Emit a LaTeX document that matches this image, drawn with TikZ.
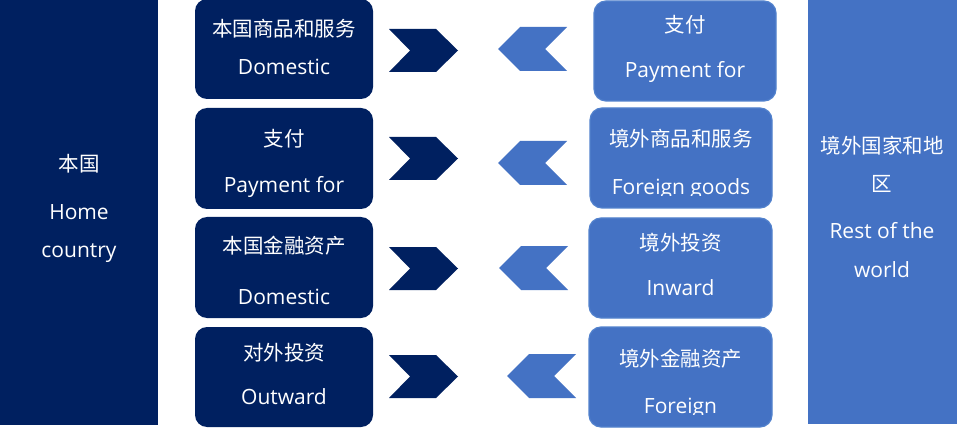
\documentclass[tikz,border=0pt]{standalone}
\usepackage{fontspec}
\setmainfont{Open Sans}
\newfontfamily\cjk{Noto Sans CJK SC}
\definecolor{navy}{HTML}{002060}
\definecolor{lblue}{HTML}{4472C4}
\definecolor{lrim}{HTML}{5282CD}
\tikzset{
  bigdark/.style={fill=navy, draw=none, inner sep=0pt},
  biglight/.style={fill=lblue, draw=none, inner sep=0pt},
  darkbox/.style={fill=navy, draw=none, rounded corners=12pt, inner sep=0pt},
  lightbox/.style={fill=lblue, draw=lrim, line width=1.2pt, rounded corners=12pt, inner sep=0pt},
  etxt/.style={text=white, font=\fontsize{21}{25}\selectfont, anchor=base, inner sep=0pt},
  ctxt/.style={text=white, font=\cjk\fontsize{20.5}{24}\selectfont, anchor=base, inner sep=0pt},
  darkchev/.style={fill=navy, draw=none},
  lightchev/.style={fill=lblue, draw=none}
}
\newcommand\chevRight[2]{% x of left edge, y of top
  \fill[darkchev] (#1,#2) -- ++(47,0) -- ++(22,21.5) -- ++(-22,21.5) -- ++(-47,0) -- ++(21,-21.5) -- cycle;}
\newcommand\chevLeft[2]{% x of left tip, y of top
  \fill[lightchev] (#1,#2+22) -- ++(22,-22) -- ++(47,0) -- ++(-22,22) -- ++(22,22) -- ++(-47,0) -- cycle;}
\begin{document}
\begin{tikzpicture}[x=1pt,y=-1pt]
\useasboundingbox (0,0) rectangle (960,430);
\fill[white] (0,0) rectangle (960,430);
% big side panels
\node[bigdark, minimum width=158pt, minimum height=425pt] (home) at (79,212.5) {};
\node[biglight, minimum width=149pt, minimum height=424pt] (world) at (882.5,212) {};
\node[ctxt] (homecn) at (79,172) {本国};
\node[etxt] (homeen1) at (79,220) {Home};
\node[etxt] (homeen2) at (79,257) {country};
\node[ctxt] (worldcn1) at (882,154) {境外国家和地};
\node[ctxt] (worldcn2) at (882,192) {区};
\node[etxt] (worlden1) at (882,238) {Rest of the};
\node[etxt] (worlden2) at (882,277) {world};
% left boxes
\node[darkbox, minimum width=178pt, minimum height=100pt] (L1) at (284,49) {};
\node[darkbox, minimum width=178pt, minimum height=101pt] (L2) at (284,158.5) {};
\node[darkbox, minimum width=178pt, minimum height=101pt] (L3) at (284,267.5) {};
\node[darkbox, minimum width=178pt, minimum height=100pt] (L4) at (284,377) {};
\node[ctxt] (L1a) at (284,37) {本国商品和服务};
\node[etxt] (L1b) at (284,75) {Domestic};
\node[ctxt] (L2a) at (284,147) {支付};
\node[etxt] (L2b) at (284,193) {Payment for};
\node[ctxt] (L3a) at (284,253) {本国金融资产};
\node[etxt] (L3b) at (284,304) {Domestic};
\node[ctxt] (L4a) at (284,360) {对外投资};
\node[etxt] (L4b) at (284,404) {Outward};
% right boxes
\node[lightbox, minimum width=182pt, minimum height=100pt] (R1) at (685,51) {};
\node[lightbox, minimum width=182pt, minimum height=100pt] (R2) at (681,158) {};
\node[lightbox, minimum width=183pt, minimum height=100pt] (R3) at (680.5,268) {};
\node[lightbox, minimum width=183pt, minimum height=100pt] (R4) at (680.5,377) {};
\node[ctxt] (R1a) at (685,33) {支付};
\node[etxt] (R1b) at (685,78) {Payment for};
\node[ctxt] (R2a) at (681,147) {境外商品和服务};
\begin{scope}
  \clip (590,150) rectangle (772,196);
  \node[etxt] (R2b) at (681,195) {Foreign goods};
\end{scope}
\node[ctxt] (R3a) at (680.5,251) {境外投资};
\node[etxt] (R3b) at (680.5,295) {Inward};
\node[ctxt] (R4a) at (680.5,366) {境外金融资产};
\begin{scope}
  \clip (589,370) rectangle (772,414);
  \node[etxt] (R4b) at (680.5,413) {Foreign};
\end{scope}
% chevrons
\chevRight{389}{29}
\chevRight{389}{137}
\chevRight{389}{247}
\chevRight{389}{355}
\chevLeft{498}{27}
\chevLeft{498}{141}
\chevLeft{499}{246}
\chevLeft{507}{354}
\end{tikzpicture}
\end{document}
